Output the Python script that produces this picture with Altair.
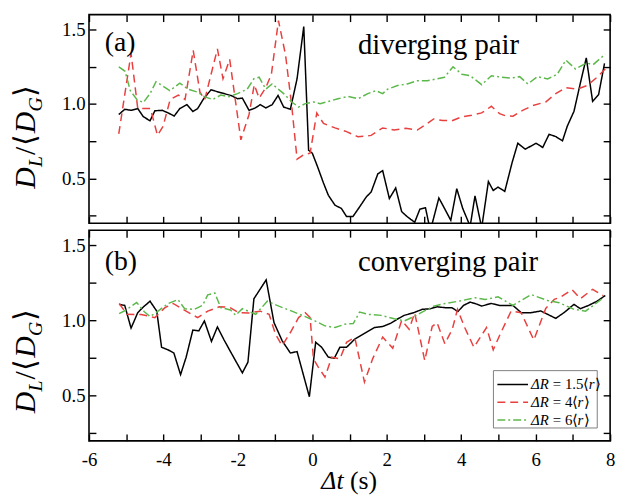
import altair as alt
import pandas as pd

# ---------------- data ----------------
series_names = ["ΔR = 1.5⟨r⟩", "ΔR = 4⟨r⟩", "ΔR = 6⟨r⟩"]
series_numbers = ["1.5", "4", "6"]
series_colors = ["#000000", "#e8403f", "#5db84c"]
series_dashes = [[1, 0], [8, 5], [8, 3, 2, 3]]

x_ticks = list(range(-6, 9))
y_ticks = [0.25, 0.5, 0.75, 1.0, 1.25, 1.5]

# (a) diverging pair
a_black_t = [-5.20, -5.04, -4.87, -4.69, -4.54, -4.36, -4.23, -4.03, -3.87, -3.71, -3.56, -3.37, -3.21, -3.08,
             -2.92, -2.72, -2.46, -2.19, -2.01, -1.88, -1.70, -1.53, -1.40, -1.25, -1.08, -0.92, -0.77, -0.59,
             -0.41, -0.23, -0.10, 0.00, 0.14, 0.30, 0.43, 0.61, 0.78, 0.92, 1.09, 1.27, 1.45, 1.58, 1.76, 1.89,
             2.07, 2.24, 2.40, 2.55, 2.75, 2.89, 3.04, 3.17, 3.40, 3.55, 3.72, 3.88, 4.04, 4.24, 4.37, 4.55,
             4.73, 4.86, 4.99, 5.17, 5.37, 5.52, 5.72, 6.01, 6.19, 6.36, 6.54, 6.72, 6.85, 7.03, 7.20, 7.36,
             7.53, 7.69, 7.85]
a_black_v = [0.93, 0.965, 0.958, 0.97, 0.915, 0.888, 0.955, 0.958, 0.94, 0.92, 0.97, 0.996, 0.95, 0.97,
             1.036, 1.096, 1.076, 1.058, 1.036, 1.04, 0.958, 0.974, 0.996, 0.974, 0.996, 1.058, 0.98, 0.965,
             1.17, 1.52, 0.69, 0.67, 0.58, 0.47, 0.388, 0.321, 0.30, 0.245, 0.245, 0.31, 0.377, 0.41, 0.532, 0.553,
             0.366, 0.437, 0.278, 0.244, 0.207, 0.295, 0.304, 0.15, 0.37, 0.30, 0.22, 0.432, 0.30, 0.18, 0.384, 0.17,
             0.48, 0.42, 0.443, 0.414, 0.61, 0.737, 0.697, 0.737, 0.709, 0.797, 0.782, 0.753, 0.852, 0.952, 1.14, 1.31,
             1.018, 1.063, 1.273]

a_red_t = [-5.20, -4.87, -4.69, -4.35, -4.16, -4.01, -3.82, -3.60, -3.42, -3.20, -3.02, -2.89, -2.55, -2.40,
           -2.22, -1.92, -1.70, -1.56, -1.43, -1.25, -1.10, -0.91, -0.72, -0.55, -0.41, -0.23, -0.06, 0.12,
           0.30, 0.61, 0.92, 1.23, 1.58, 1.89, 2.20, 2.51, 2.82, 3.09, 3.26, 3.50, 3.75, 4.02, 4.28, 4.55,
           4.81, 5.03, 5.20, 5.39, 5.65, 5.92, 6.27, 6.54, 6.81, 7.12, 7.38, 7.65, 7.87]
a_red_v = [0.80, 1.34, 0.97, 0.97, 0.79, 0.85, 1.03, 1.06, 1.03, 1.36, 1.08, 1.03, 1.37, 1.17,
           1.30, 0.76, 0.93, 1.13, 1.04, 1.11, 1.20, 1.56, 1.33, 0.98, 0.63, 0.66, 0.67, 0.94,
           0.87, 0.84, 0.815, 0.78, 0.79, 0.84, 0.826, 0.837, 0.826, 0.87, 0.90, 0.89, 0.888, 0.915, 0.925, 0.941,
           0.985, 0.936, 0.92, 0.919, 0.958, 0.99, 1.014, 1.07, 1.11, 1.10, 1.124, 1.18, 1.235]

a_green_t = [-5.20, -5.03, -4.89, -4.71, -4.54, -4.36, -4.20, -4.01, -3.83, -3.56, -3.34, -3.08, -2.90, -2.68,
             -2.46, -2.24, -2.01, -1.75, -1.57, -1.43, -1.25, -1.08, -0.77, -0.55, -0.37, -0.19, 0.03, 0.21,
             0.38, 0.69, 0.96, 1.23, 1.49, 1.71, 1.89, 2.02, 2.29, 2.55, 2.82, 3.09, 3.35, 3.55, 3.78, 4.02,
             4.24, 4.55, 4.81, 5.08, 5.34, 5.57, 5.79, 6.05, 6.32, 6.58, 6.81, 7.07, 7.34, 7.56, 7.87]
a_green_v = [1.25, 1.22, 1.09, 1.03, 1.01, 1.07, 1.15, 1.12, 1.09, 1.14, 1.10, 1.08, 1.05, 1.03,
             1.06, 1.05, 1.07, 1.10, 1.17, 1.18, 1.10, 1.135, 1.07, 1.014, 0.98, 1.003, 1.014, 1.003,
             1.014, 1.036, 1.051, 1.036, 1.07, 1.09, 1.07, 1.10, 1.124, 1.135, 1.157, 1.157, 1.169, 1.18, 1.25, 1.20,
             1.19, 1.13, 1.19, 1.18, 1.175, 1.184, 1.135, 1.184, 1.169, 1.20, 1.295, 1.235, 1.273, 1.268, 1.335]

# (b) converging pair
b_black_t = [-5.19, -5.04, -4.87, -4.69, -4.54, -4.36, -4.18, -4.05, -3.87, -3.72, -3.54, -3.39, -3.21, -3.05,
             -2.90, -2.71, -2.55, -2.37, -2.19, -1.88, -1.73, -1.57, -1.24, -1.03, -0.81, -0.59, -0.41, -0.08,
             0.09, 0.25, 0.43, 0.59, 0.74, 0.92, 1.14, 1.40, 1.67, 1.89, 2.11, 2.29, 2.47, 2.73, 2.95, 3.17,
             3.35, 3.57, 3.75, 3.91, 4.06, 4.24, 4.37, 4.55, 4.81, 5.03, 5.39, 5.61, 5.88, 6.14, 6.54, 6.76,
             7.03, 7.20, 7.42, 7.65, 7.87]
b_black_v = [1.107, 1.10, 0.949, 1.052, 1.09, 1.128, 1.062, 0.822, 0.804, 0.784, 0.64, 0.756, 0.936, 0.931,
             0.997, 0.861, 0.957, 0.87, 0.789, 0.652, 0.723, 1.144, 1.27, 0.986, 0.865, 0.784, 0.793, 0.493,
             0.855, 0.822, 0.756, 0.749, 0.822, 0.822, 0.876, 0.914, 0.953, 0.96, 0.982, 1.01, 1.034, 1.052, 1.074, 1.078,
             1.091, 1.085, 1.085, 1.059, 1.10, 1.122, 1.113, 1.096, 1.113, 1.10, 1.10, 1.052, 1.052, 1.063, 1.014, 1.052,
             1.107, 1.078, 1.10, 1.128, 1.166]

b_red_t = [-5.19, -4.98, -4.60, -4.23, -3.96, -3.74, -3.45, -3.08, -2.81, -2.50, -2.24, -1.97, -1.70, -1.40,
           -1.16, -0.99, -0.81, -0.59, -0.37, -0.19, -0.06, 0.03, 0.16, 0.34, 0.52, 0.74, 0.92, 1.14,
           1.40, 1.62, 1.89, 2.16, 2.40, 2.60, 2.75, 3.02, 3.22, 3.35, 3.56, 3.76, 3.90, 4.10, 4.34, 4.68,
           4.86, 5.03, 5.34, 5.61, 5.95, 6.27, 6.50, 6.67, 6.98, 7.20, 7.53, 7.82]
b_red_v = [1.113, 1.041, 1.04, 1.019, 1.085, 1.113, 1.07, 1.019, 1.062, 1.091, 1.089, 1.052, 1.05, 1.062,
           1.041, 0.909, 0.832, 0.92, 1.019, 1.052, 1.02, 0.745, 0.69, 0.624, 0.756, 0.745, 0.855, 0.887,
           0.591, 0.745, 0.89, 0.815, 1.0, 0.942, 1.05, 0.734, 0.96, 0.986, 0.845, 0.942, 1.074, 0.95, 0.822, 0.953,
           0.805, 0.90, 1.062, 1.052, 0.87, 1.08, 1.14, 1.155, 1.205, 1.145, 1.207, 1.165]

b_green_t = [-5.19, -5.00, -4.72, -4.52, -4.36, -4.18, -3.87, -3.61, -3.43, -3.17, -2.95, -2.81, -2.62, -2.46,
             -2.20, -2.06, -1.88, -1.52, -1.21, -0.90, -0.55, -0.19, 0.07, 0.34, 0.61, 0.87, 1.10, 1.27,
             1.49, 1.85, 2.20, 2.47, 2.73, 3.00, 3.26, 3.57, 3.93, 4.37, 4.64, 4.99, 5.39, 5.88, 6.32, 6.63,
             7.03, 7.34, 7.55, 7.82]
b_green_v = [1.045, 1.07, 1.12, 1.06, 1.026, 1.056, 1.113, 1.139, 1.078, 1.074, 1.10, 1.17, 1.183, 1.085,
             1.07, 1.035, 1.078, 1.041, 1.128, 1.095, 1.062, 1.026, 0.997, 0.964, 0.953, 0.975, 0.98, 1.056,
             1.041, 1.034, 1.012, 0.997, 1.026, 1.062, 1.095, 1.113, 1.128, 1.151, 1.139, 1.157, 1.10, 1.172, 1.133, 1.118,
             1.074, 1.062, 1.10, 1.151]


def long_table(parts):
    frames = []
    for name, t, v in parts:
        frames.append(pd.DataFrame({"t": t, "v": v, "series": name}))
    return pd.concat(frames, ignore_index=True)


df_a = long_table([(series_names[0], a_black_t, a_black_v),
                   (series_names[1], a_red_t, a_red_v),
                   (series_names[2], a_green_t, a_green_v)])
df_b = long_table([(series_names[0], b_black_t, b_black_v),
                   (series_names[1], b_red_t, b_red_v),
                   (series_names[2], b_green_t, b_green_v)])

# ---------------- styling ----------------
FONT = "Liberation Serif"
W = 527
TICK = 7

x_scale = alt.Scale(domain=[-6, 8], nice=False, zero=False)
y_scale = alt.Scale(domain=[0.2, 1.6], nice=False, zero=False)
color_scale = alt.Scale(domain=series_names, range=series_colors)
dash_scale = alt.Scale(domain=series_names, range=series_dashes)

x_label_expr = "datum.value % 2 === 0 ? '' + datum.value : ''"
y_label_expr = "round(datum.value * 4) % 2 === 0 ? format(datum.value, '.1f') : ''"


def axis(orient, values, labels, expr=None, pad=4):
    kw = dict(orient=orient, offset=-TICK, tickSize=TICK, values=values, labels=labels,
              domain=False, grid=False, title=None, labelOverlap=False, labelFlush=False,
              labelFont=FONT, labelFontSize=19, labelColor="black", labelPadding=pad,
              tickColor="black", tickWidth=1.4)
    if expr is not None:
        kw["labelExpr"] = expr
    return alt.Axis(**kw)


def text_layer(frame, style, align="left", baseline="alphabetic", angle=0):
    kw = dict(align=align, baseline=baseline, font=FONT, fontStyle=style, color="black")
    if angle:
        kw["angle"] = angle
    return alt.Chart(frame).mark_text(**kw).encode(
        x=alt.X("px:Q", scale=None), y=alt.Y("py:Q", scale=None),
        size=alt.Size("fs:Q", scale=None, legend=None), text="s:N")


def title_pieces(d_bottom):
    # rotated y title  D_L/<D_G>, pieces positioned in pixels relative to the plot area
    bx, sx = -55, -48
    italic = pd.DataFrame({
        "s": ["D", "L", "D", "G"],
        "px": [bx, sx, bx, sx],
        "py": [d_bottom, d_bottom - 22, d_bottom - 56, d_bottom - 78],
        "fs": [30, 20, 30, 20],
    })
    upright = pd.DataFrame({
        "s": ["/", "⟨", "⟩"],
        "px": [bx, bx, bx],
        "py": [d_bottom - 34, d_bottom - 43, d_bottom - 93],
        "fs": [30, 30, 30],
    })
    return [text_layer(italic, "italic", angle=270), text_layer(upright, "normal", angle=270)]


def one_text(text, px, py, size, baseline="alphabetic", style="normal"):
    frame = pd.DataFrame({"s": [text], "px": [px], "py": [py], "fs": [size]})
    return text_layer(frame, style, baseline=baseline)


def legend_layers():
    box = alt.Chart(pd.DataFrame({"k": [0]})).mark_rect(
        fill="white", stroke="#808080", strokeWidth=1
    ).encode(x=alt.value(409), x2=alt.value(514), y=alt.value(142), y2=alt.value(200))
    rows_y = [156, 174, 192]
    samples = alt.Chart(pd.DataFrame({"series": series_names, "py": rows_y})).mark_rule(
        strokeWidth=1.5
    ).encode(
        x=alt.value(413), x2=alt.value(444), y=alt.Y("py:Q", scale=None),
        color=alt.Color("series:N", scale=color_scale, legend=None),
        strokeDash=alt.StrokeDash("series:N", scale=dash_scale, legend=None),
    )
    fs = 15
    x0 = 447
    w_dr = 18.5
    up_text, up_x, it_text, it_x, ys_up, ys_it = [], [], [], [], [], []
    for num, y in zip(series_numbers, rows_y):
        yb = y + 5
        mid = "= " + num + "⟨"
        w_mid = (0.564 + 0.25 + 0.5 * len(num.replace(".", "")) + 0.25 * num.count(".") + 0.35) * fs
        x_mid = x0 + w_dr + 3.6
        it_text += ["ΔR", "r"]
        it_x += [x0, x_mid + w_mid]
        ys_it += [yb, yb]
        up_text += [mid, "⟩"]
        up_x += [x_mid, x_mid + w_mid + 6.2]
        ys_up += [yb, yb]
    it = pd.DataFrame({"s": it_text, "px": it_x, "py": ys_it, "fs": fs})
    up = pd.DataFrame({"s": up_text, "px": up_x, "py": ys_up, "fs": fs})
    return [box, samples, text_layer(it, "italic"), text_layer(up, "normal")]


def panel(df, H, tag, tag_y, name, name_y, d_bottom, bottom):
    lines = alt.Chart(df).mark_line(clip=True, strokeWidth=1.5).encode(
        x=alt.X("t:Q", scale=x_scale, axis=axis("bottom", x_ticks, bottom, x_label_expr, pad=10)),
        y=alt.Y("v:Q", scale=y_scale, axis=axis("left", y_ticks, True, y_label_expr)),
        color=alt.Color("series:N", scale=color_scale, sort=series_names, legend=None),
        strokeDash=alt.StrokeDash("series:N", scale=dash_scale, sort=series_names, legend=None),
    )
    mirror = alt.Chart(df).mark_point(clip=True, opacity=0).encode(
        x=alt.X("t:Q", scale=x_scale, axis=axis("top", x_ticks, False)),
        y=alt.Y("v:Q", scale=y_scale, axis=axis("right", y_ticks, False)),
    )
    layers = [lines, mirror,
              one_text(tag, 16, tag_y, 28, baseline="middle"),
              one_text(name, 272, name_y, 29)]
    layers += title_pieces(d_bottom)
    if bottom:
        layers += legend_layers()
        layers.append(one_text("Δt", 235, H + 49, 26, style="italic"))
        layers.append(one_text("(s)", 264, H + 49, 26))
    return alt.layer(*layers).properties(width=W, height=H)


top = panel(df_a, 211, "(a)", 29, "diverging pair", 40, 176, False)
bottom = panel(df_b, 213, "(b)", 32, "converging pair", 41, 185, True)

chart = alt.vconcat(top, bottom, spacing=1).configure_view(
    stroke="black", strokeWidth=1.6
).configure_axis(
    labelFont=FONT
).configure_text(
    font=FONT
).properties(
    padding={"left": 10, "top": 10, "right": 4, "bottom": 0},
    background="white",
)

chart.save("out.html", embed_options={"renderer": "svg", "actions": False})
